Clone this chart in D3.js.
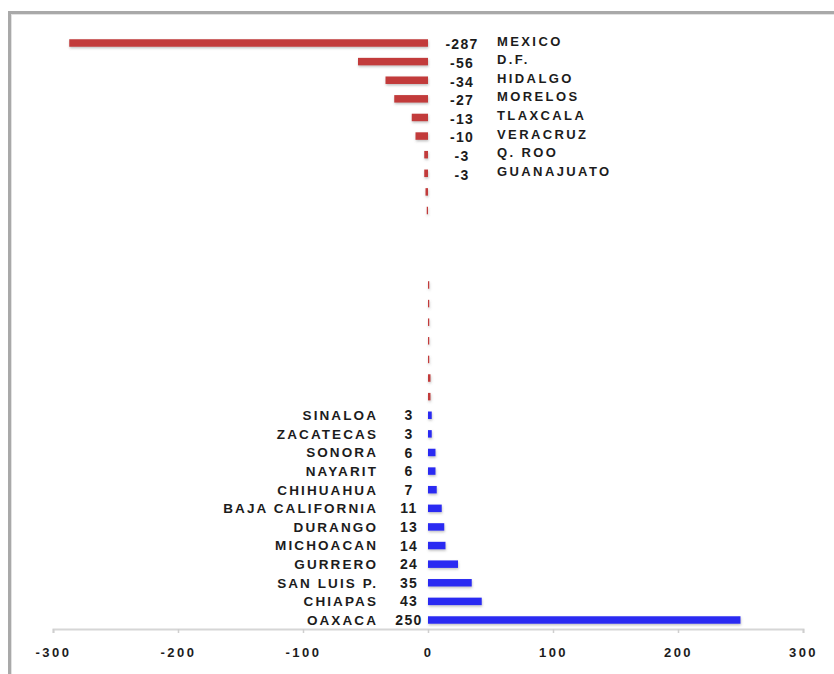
<!DOCTYPE html>
<html>
<head>
<meta charset="utf-8">
<script src="https://cdn.jsdelivr.net/npm/d3@7"></script>
<style>
  body { margin: 0; background: #fff; }
  text { font-family: "Liberation Sans", Arial, sans-serif; font-weight: bold; fill: #1c1c1c; }
</style>
</head>
<body>
<svg id="chart" width="834" height="674"></svg>
<script>
// datos por estado (las filas sin nombre no llevan etiqueta)
var states = ['MEXICO', 'D.F.', 'HIDALGO', 'MORELOS', 'TLAXCALA', 'VERACRUZ', 'Q. ROO', 'GUANAJUATO',
    '', '', '', '', '', '', '', '', '', '', '', '',
    'SINALOA', 'ZACATECAS', 'SONORA', 'NAYARIT', 'CHIHUAHUA', 'BAJA CALIFORNIA', 'DURANGO',
    'MICHOACAN', 'GURRERO', 'SAN LUIS P.', 'CHIAPAS', 'OAXACA'];
var values = [-287, -56, -34, -27, -13, -10, -3, -3,
    -2, -1, 0, 0, 0, 1, 1, 1, 1, 1, 2, 2,
    3, 3, 6, 6, 7, 11, 13, 14, 24, 35, 43, 250];
var xTicks = [-300, -200, -100, 0, 100, 200, 300];

var svg = d3.select('#chart');

// marco
svg.append('rect')
    .attr('x', 9.5)
    .attr('y', 12.5)
    .attr('width', 900)
    .attr('height', 800)
    .attr('fill', 'none')
    .attr('stroke', '#a9a9a9')
    .attr('stroke-width', 3);

svg.append('rect')
    .attr('x', 11.5)
    .attr('y', 14.5)
    .attr('width', 900)
    .attr('height', 800)
    .attr('fill', 'none')
    .attr('stroke', '#e2e2e2')
    .attr('stroke-width', 1);

// sombra
var defs = svg.append('defs');
defs.append('filter')
    .attr('id', 'shadow')
    .attr('x', '-20%').attr('y', '-50%')
    .attr('width', '140%').attr('height', '200%')
    .append('feDropShadow')
    .attr('dx', 0.5)
    .attr('dy', 1.5)
    .attr('stdDeviation', 0.8)
    .attr('flood-color', '#777')
    .attr('flood-opacity', 0.45);

var x = d3.scaleLinear().domain([-300, 300]).range([53, 803]);
var y = d3.scalePoint().domain(d3.range(states.length)).range([43, 620]);
var barH = 7.5;

// eje x
var axisY = 629;
var axis = svg.append('g')
    .attr('transform', `translate(0,${axisY})`)
    .call(d3.axisBottom(x).tickValues(xTicks).tickSize(4).tickPadding(15).tickFormat(d3.format('d')));

axis.select('.domain')
    .attr('stroke', '#d6d6d6')
    .attr('stroke-width', 2);
axis.selectAll('.tick line')
    .attr('stroke', '#cfcfcf')
    .attr('stroke-width', 1.5);
axis.selectAll('.tick text')
    .attr('font-size', 13)
    .attr('letter-spacing', 2.5)
    .attr('font-family', '"Liberation Sans", Arial, sans-serif')
    .attr('fill', '#1c1c1c')
    .text(d => d < 0 ? '-' + Math.abs(d) : d);

// barras
var rows = d3.range(states.length);

svg.append('g')
    .attr('filter', 'url(#shadow)')
    .selectAll('rect')
    .data(rows.filter(i => values[i] !== 0))
    .join('rect')
    .attr('x', i => x(Math.min(0, values[i])))
    .attr('y', i => y(i) - barH / 2)
    .attr('width', i => Math.abs(x(values[i]) - x(0)))
    .attr('height', barH)
    .attr('fill', i => values[i] >= 3 ? '#2b2bf2' : '#c23a3a');

// etiquetas
var labeled = rows.filter(i => states[i] !== '');
var x0 = x(0);

var lab = svg.append('g')
    .selectAll('g')
    .data(labeled)
    .join('g')
    .attr('transform', i => `translate(0,${y(i)})`);

lab.append('text')
    .attr('x', i => values[i] < 0 ? x0 + 34 : x0 - 19)
    .attr('dy', i => values[i] < 0 ? '0.45em' : '0.36em')
    .attr('text-anchor', 'middle')
    .attr('font-size', 14)
    .attr('letter-spacing', 1.3)
    .text(i => values[i]);

lab.append('text')
    .attr('x', i => values[i] < 0 ? x0 + 69 : x0 - 50)
    .attr('dy', i => values[i] < 0 ? '0.2em' : '0.36em')
    .attr('text-anchor', i => values[i] < 0 ? 'start' : 'end')
    .attr('font-size', i => values[i] < 0 ? 13 : 13.5)
    .attr('letter-spacing', i => values[i] < 0 ? 2.4 : 2.1)
    .text(i => states[i]);
</script>
</body>
</html>
